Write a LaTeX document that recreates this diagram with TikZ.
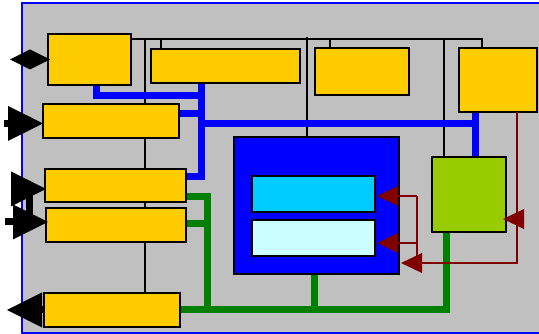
\documentclass[tikz,border=0pt]{standalone}
\usetikzlibrary{arrows.meta,backgrounds}
\definecolor{panel}{HTML}{C0C0C0}
\definecolor{unitfill}{HTML}{FFCC00}
\definecolor{memafill}{HTML}{00CCFF}
\definecolor{membfill}{HTML}{CCFFFF}
\definecolor{auxfill}{HTML}{99CC00}
\definecolor{gbuscol}{HTML}{008000}
\definecolor{sigcol}{HTML}{800000}
\begin{document}
\begin{tikzpicture}[x=1pt,y=-1pt,
	unit/.style={draw=black, line width=2pt, fill=unitfill, inner sep=0pt, outer sep=0pt, anchor=north west},
	wire/.style={draw=black, line width=1.6pt},
	hbus/.style={draw=blue, line width=7pt},
	gbus/.style={draw=gbuscol, line width=7pt},
	sig/.style={draw=sigcol, line width=1.5pt, -{Triangle[length=21pt,width=20pt,line width=0pt]}},
	port/.style={draw=black, line width=7pt, -{Triangle[length=35pt,width=35pt,line width=0pt]}}]
	\useasboundingbox (0,0) rectangle (539,334);
	
	% units
	\node[unit, minimum width=83pt, minimum height=51pt] (u1) at (48,34) {};
	\node[unit, minimum width=149pt, minimum height=34pt] (u2) at (151,49) {};
	\node[unit, minimum width=94pt, minimum height=47pt] (u3) at (315,48) {};
	\node[unit, minimum width=78pt, minimum height=64pt] (u4) at (459,48) {};
	\node[unit, minimum width=136pt, minimum height=34pt] (u5) at (43,104) {};
	\node[unit, minimum width=141pt, minimum height=33pt] (u6) at (45,169) {};
	\node[unit, minimum width=140pt, minimum height=34pt] (u7) at (46,208) {};
	\node[unit, minimum width=136pt, minimum height=34pt] (u8) at (44,293) {};
	
	\node[unit, fill=blue, minimum width=165pt, minimum height=137pt] (core) at (234,137) {};
	\node[unit, fill=memafill, minimum width=123pt, minimum height=36pt] (memA) at (252,176) {};
	\node[unit, fill=membfill, minimum width=123pt, minimum height=36pt] (memB) at (252,220) {};
	\node[unit, fill=auxfill, minimum width=74pt, minimum height=75pt] (aux) at (432,157) {};
	
	\begin{pgfonlayer}{background}
		\draw[blue, line width=1.5pt, fill=panel] (22,3) rectangle (545,333);
		
		% thin bus
		\coordinate (tapA) at (145,39);
		\coordinate (tapB) at (161,39);
		\coordinate (tapC) at (307,39);
		\coordinate (tapD) at (330,39);
		\coordinate (tapE) at (444,39);
		\coordinate (busR) at (482,39);
		\draw[wire] (u1.east |- tapA) -- (busR) -- (busR |- u4.north);
		\draw[wire] (tapA) -- (tapA |- u8.north);
		\draw[wire] (tapB) -- (tapB |- u2.north);
		\draw[wire] ([yshift=2pt]tapC) -- (tapC |- core.north);
		\draw[wire] (tapD) -- (tapD |- u3.north);
		\draw[wire] (tapE) -- (tapE |- aux.north);
		
		% blue bus
		\coordinate (j1) at (96,96);
		\coordinate (j2) at (201,96);
		\coordinate (j3) at (201,124);
		\coordinate (j4) at (475,124);
		\coordinate (j5) at (201,177);
		\coordinate (j6) at (201,114);
		\draw[hbus] (u1.south -| j1) -- (j1) -- (j2);
		\draw[hbus] (u2.south -| j2) -- (j5) -- (j5 -| u6.east);
		\draw[hbus] (u5.east |- j6) -- (j6);
		\draw[hbus] (j3) -- (j4);
		\draw[hbus] (u4.south -| j4) -- (j4 |- aux.north);
		
		% green bus
		\coordinate (k1) at (207.5,197);
		\coordinate (k2) at (207.5,223.5);
		\coordinate (k3) at (207.5,309.5);
		\coordinate (k4) at (446,309.5);
		\coordinate (k5) at (314,309.5);
		\draw[gbus] (u6.east |- k1) -- (k1) -- (k3);
		\draw[gbus] (u7.east |- k2) -- (k2);
		\draw[gbus] (u8.east |- k3) -- (k4) -- (k4 |- aux.south);
		\draw[gbus] (core.south -| k5) -- (k5);
	\end{pgfonlayer}
	
	% signals
	\coordinate (r1) at (517,263);
	\coordinate (r2) at (417,196);
	\coordinate (r3) at (417,243);
	\coordinate (r5) at (517,219);
	\draw[sig] (u4.south -| r1) -- (r1) -- ([xshift=2pt]r1 -| core.east);
	\draw[wire, draw=sigcol, line width=1.5pt] (r2) -- (r2 |- r1);
	\draw[sig] (r2) -- ([xshift=2pt]r2 -| memA.east);
	\draw[sig] (r3) -- ([xshift=2pt]r3 -| memB.east);
	\draw[sig] (r5) -- ([xshift=-3pt]r5 -| aux.east);
	
	% ports
	\coordinate (pA) at (10,59.5);
	\coordinate (pB) at (4,123.5);
	\coordinate (pC) at (5,222);
	\coordinate (pCk) at (29,222);
	\coordinate (pD) at (29,189);
	\coordinate (pE) at (7,310);
	\draw[wire, -{Diamond[length=40pt,width=20pt,line width=0pt]}] (u1.west) -- (pA);
	\draw[port] (pB) -- (pB -| u5.west);
	\draw[port] (pC) -- ([xshift=2pt]pC -| u7.west);
	\draw[port] (pCk) -- (pD) -- ([xshift=1pt]pD -| u6.west);
	\draw[port] (u8.west |- pE) -- (pE);
\end{tikzpicture}
\end{document}
